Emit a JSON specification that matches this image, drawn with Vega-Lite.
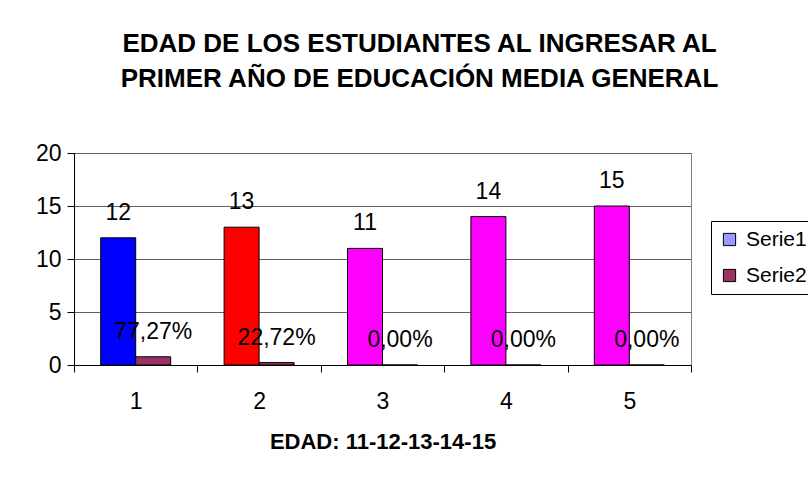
{
  "$schema": "https://vega.github.io/schema/vega-lite/v6.json",
  "width": 617,
  "height": 212,
  "autosize": "none",
  "padding": {"left": 74, "top": 153, "right": 117, "bottom": 114},
  "background": "white",
  "title": {
    "text": ["EDAD DE LOS ESTUDIANTES AL INGRESAR AL", "PRIMER AÑO DE EDUCACIÓN MEDIA GENERAL"],
    "font": "Liberation Sans",
    "fontSize": 26,
    "fontWeight": "bold",
    "color": "black",
    "anchor": "middle",
    "frame": "group",
    "dx": 37,
    "offset": 50,
    "lineHeight": 35
  },
  "data": {
    "values": [
      {"cat": "1", "serie": "Serie1", "value": 12, "color": "#0000FF", "label": "12"},
      {"cat": "1", "serie": "Serie2", "value": 0.7727, "color": "#993366", "label": "77,27%"},
      {"cat": "2", "serie": "Serie1", "value": 13, "color": "#FF0000", "label": "13"},
      {"cat": "2", "serie": "Serie2", "value": 0.2272, "color": "#993366", "label": "22,72%"},
      {"cat": "3", "serie": "Serie1", "value": 11, "color": "#FF00FF", "label": "11"},
      {"cat": "3", "serie": "Serie2", "value": 0, "color": "#993366", "label": "0,00%"},
      {"cat": "4", "serie": "Serie1", "value": 14, "color": "#FF00FF", "label": "14"},
      {"cat": "4", "serie": "Serie2", "value": 0, "color": "#993366", "label": "0,00%"},
      {"cat": "5", "serie": "Serie1", "value": 15, "color": "#FF00FF", "label": "15"},
      {"cat": "5", "serie": "Serie2", "value": 0, "color": "#993366", "label": "0,00%"}
    ]
  },
  "encoding": {
    "x": {
      "field": "cat",
      "type": "nominal",
      "scale": {"paddingInner": 0, "paddingOuter": 0},
      "axis": {
        "title": "EDAD: 11-12-13-14-15",
        "titleFont": "Liberation Sans",
        "titleFontSize": 22,
        "titleFontWeight": "bold",
        "titleColor": "black",
        "titlePadding": 18,
        "labelAngle": 0,
        "labelFont": "Liberation Sans",
        "labelFontSize": 23,
        "labelColor": "black",
        "labelPadding": 18,
        "domainColor": "black",
        "tickColor": "black",
        "tickSize": 7,
        "tickBand": "extent",
        "grid": false
      }
    },
    "xOffset": {
      "field": "serie",
      "type": "nominal",
      "scale": {"domain": ["Serie1", "Serie2"], "paddingInner": 0, "paddingOuter": 0.763}
    },
    "y": {
      "field": "value",
      "type": "quantitative",
      "scale": {"domain": [0, 20], "nice": false},
      "axis": {
        "title": null,
        "values": [0, 5, 10, 15, 20],
        "labelFont": "Liberation Sans",
        "labelFontSize": 23,
        "labelColor": "black",
        "labelPadding": 6,
        "domainColor": "black",
        "tickColor": "black",
        "tickSize": 7,
        "gridColor": "#606060",
        "gridOpacity": 1
      }
    }
  },
  "layer": [
    {
      "transform": [{"filter": "datum.serie === 'Serie1'"}],
      "mark": {"type": "bar", "stroke": "black", "strokeWidth": 1},
      "encoding": {
        "fill": {"field": "color", "type": "nominal", "scale": null, "legend": null}
      }
    },
    {
      "transform": [{"filter": "datum.serie === 'Serie2'"}],
      "mark": {"type": "bar", "stroke": "black", "strokeWidth": 1, "opacity": 1},
      "encoding": {
        "color": {
          "field": "serie",
          "type": "nominal",
          "scale": {"domain": ["Serie1", "Serie2"], "range": ["#9999FF", "#993366"]},
          "legend": {
            "title": null,
            "orient": "none",
            "legendX": 637,
            "legendY": 68,
            "strokeColor": "black",
            "padding": 8,
            "symbolType": "square",
            "symbolSize": 150,
            "symbolStrokeColor": "black",
            "symbolStrokeWidth": 1,
            "symbolOpacity": 1,
            "labelFont": "Liberation Sans",
            "labelFontSize": 21,
            "labelColor": "black",
            "labelOffset": 6,
            "rowPadding": 14
          }
        }
      }
    },
    {
      "mark": {"type": "text", "font": "Liberation Sans", "fontSize": 23, "color": "black", "baseline": "alphabetic", "dy": -18},
      "encoding": {
        "text": {"field": "label", "type": "nominal"}
      }
    }
  ],
  "config": {
    "view": {"stroke": "#808080", "strokeWidth": 1}
  }
}
